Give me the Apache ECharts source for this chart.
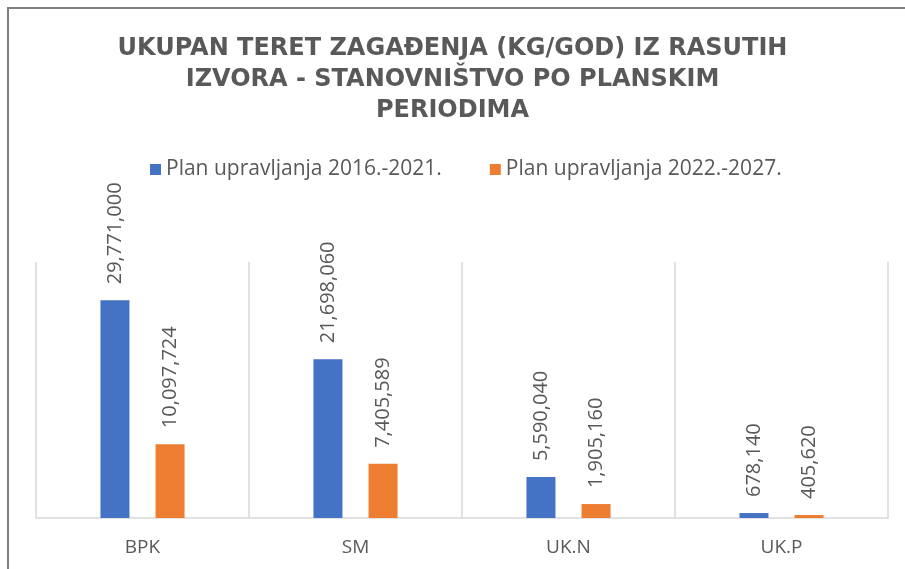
<!DOCTYPE html>
<html>
<head>
<meta charset="utf-8">
<script src="https://cdn.jsdelivr.net/npm/echarts@6/dist/echarts.min.js"></script>
<style>
  html, body { margin: 0; padding: 0; background: #fff; }
  #chart { width: 905px; height: 569px; }
</style>
</head>
<body>
<div id="chart"></div>
<script>
// podaci ocitani sa grafikona
const categories = ['BPK', 'SM', 'UK.N', 'UK.P'];
const seriesNames = ['Plan upravljanja 2016.-2021.', 'Plan upravljanja 2022.-2027.'];
const plan2016 = [29771000, 21698060, 5590040, 678140];
const plan2022 = [10097724, 7405589, 1905160, 405620];
const colors = ['#4472c4', '#ed7d31'];

const gray = '#595959';
const font = 'Open Sans';

let myChart = echarts.init(document.getElementById('chart'));

function makeSeries(name, data, color) {
  return {
    name: name,
    type: 'bar',
    data: data,
    barWidth: 29,
    barGap: '90%',
    itemStyle: { color: color },
    label: {
      show: true,
      position: 'top',
      rotate: 90,
      align: 'left',
      verticalAlign: 'middle',
      distance: 16,
      color: gray,
      fontFamily: font,
      fontSize: 20,
      formatter: p => p.value.toLocaleString('en-US')
    }
  };
}

myChart.setOption({
  animation: false,
  backgroundColor: '#fff',
  title: {
    text: 'UKUPAN TERET ZAGAĐENJA (KG/GOD) IZ RASUTIH\nIZVORA - STANOVNIŠTVO PO PLANSKIM\nPERIODIMA',
    left: 'center',
    top: 28,
    textStyle: {
      color: gray,
      fontFamily: 'DejaVu Sans',
      fontWeight: 'bold',
      fontSize: 24,
      lineHeight: 31
    }
  },
  legend: {
    data: seriesNames,
    left: 145,
    top: 154,
    itemWidth: 11,
    itemHeight: 11,
    itemGap: 48,
    icon: 'rect',
    textStyle: { color: gray, fontFamily: font, fontSize: 21 }
  },
  graphic: [{
    type: 'rect',
    shape: { x: 8, y: 8, width: 1000, height: 1000 },
    style: { fill: null, stroke: '#7f7f7f', lineWidth: 2 },
    silent: true
  }],
  grid: { left: 36, right: 17, top: 262, bottom: 51 },
  xAxis: {
    type: 'category',
    data: categories,
    axisLine: { lineStyle: { color: '#d9d9d9', width: 1.5 } },
    axisTick: { show: false },
    splitLine: { show: true, lineStyle: { color: '#d9d9d9', width: 1.5 } },
    axisLabel: { color: gray, fontFamily: font, fontSize: 19, margin: 20 }
  },
  yAxis: {
    type: 'value',
    min: 0,
    max: 35000000,
    show: false
  },
  series: [
    makeSeries(seriesNames[0], plan2016, colors[0]),
    makeSeries(seriesNames[1], plan2022, colors[1])
  ]
});
</script>
</body>
</html>
